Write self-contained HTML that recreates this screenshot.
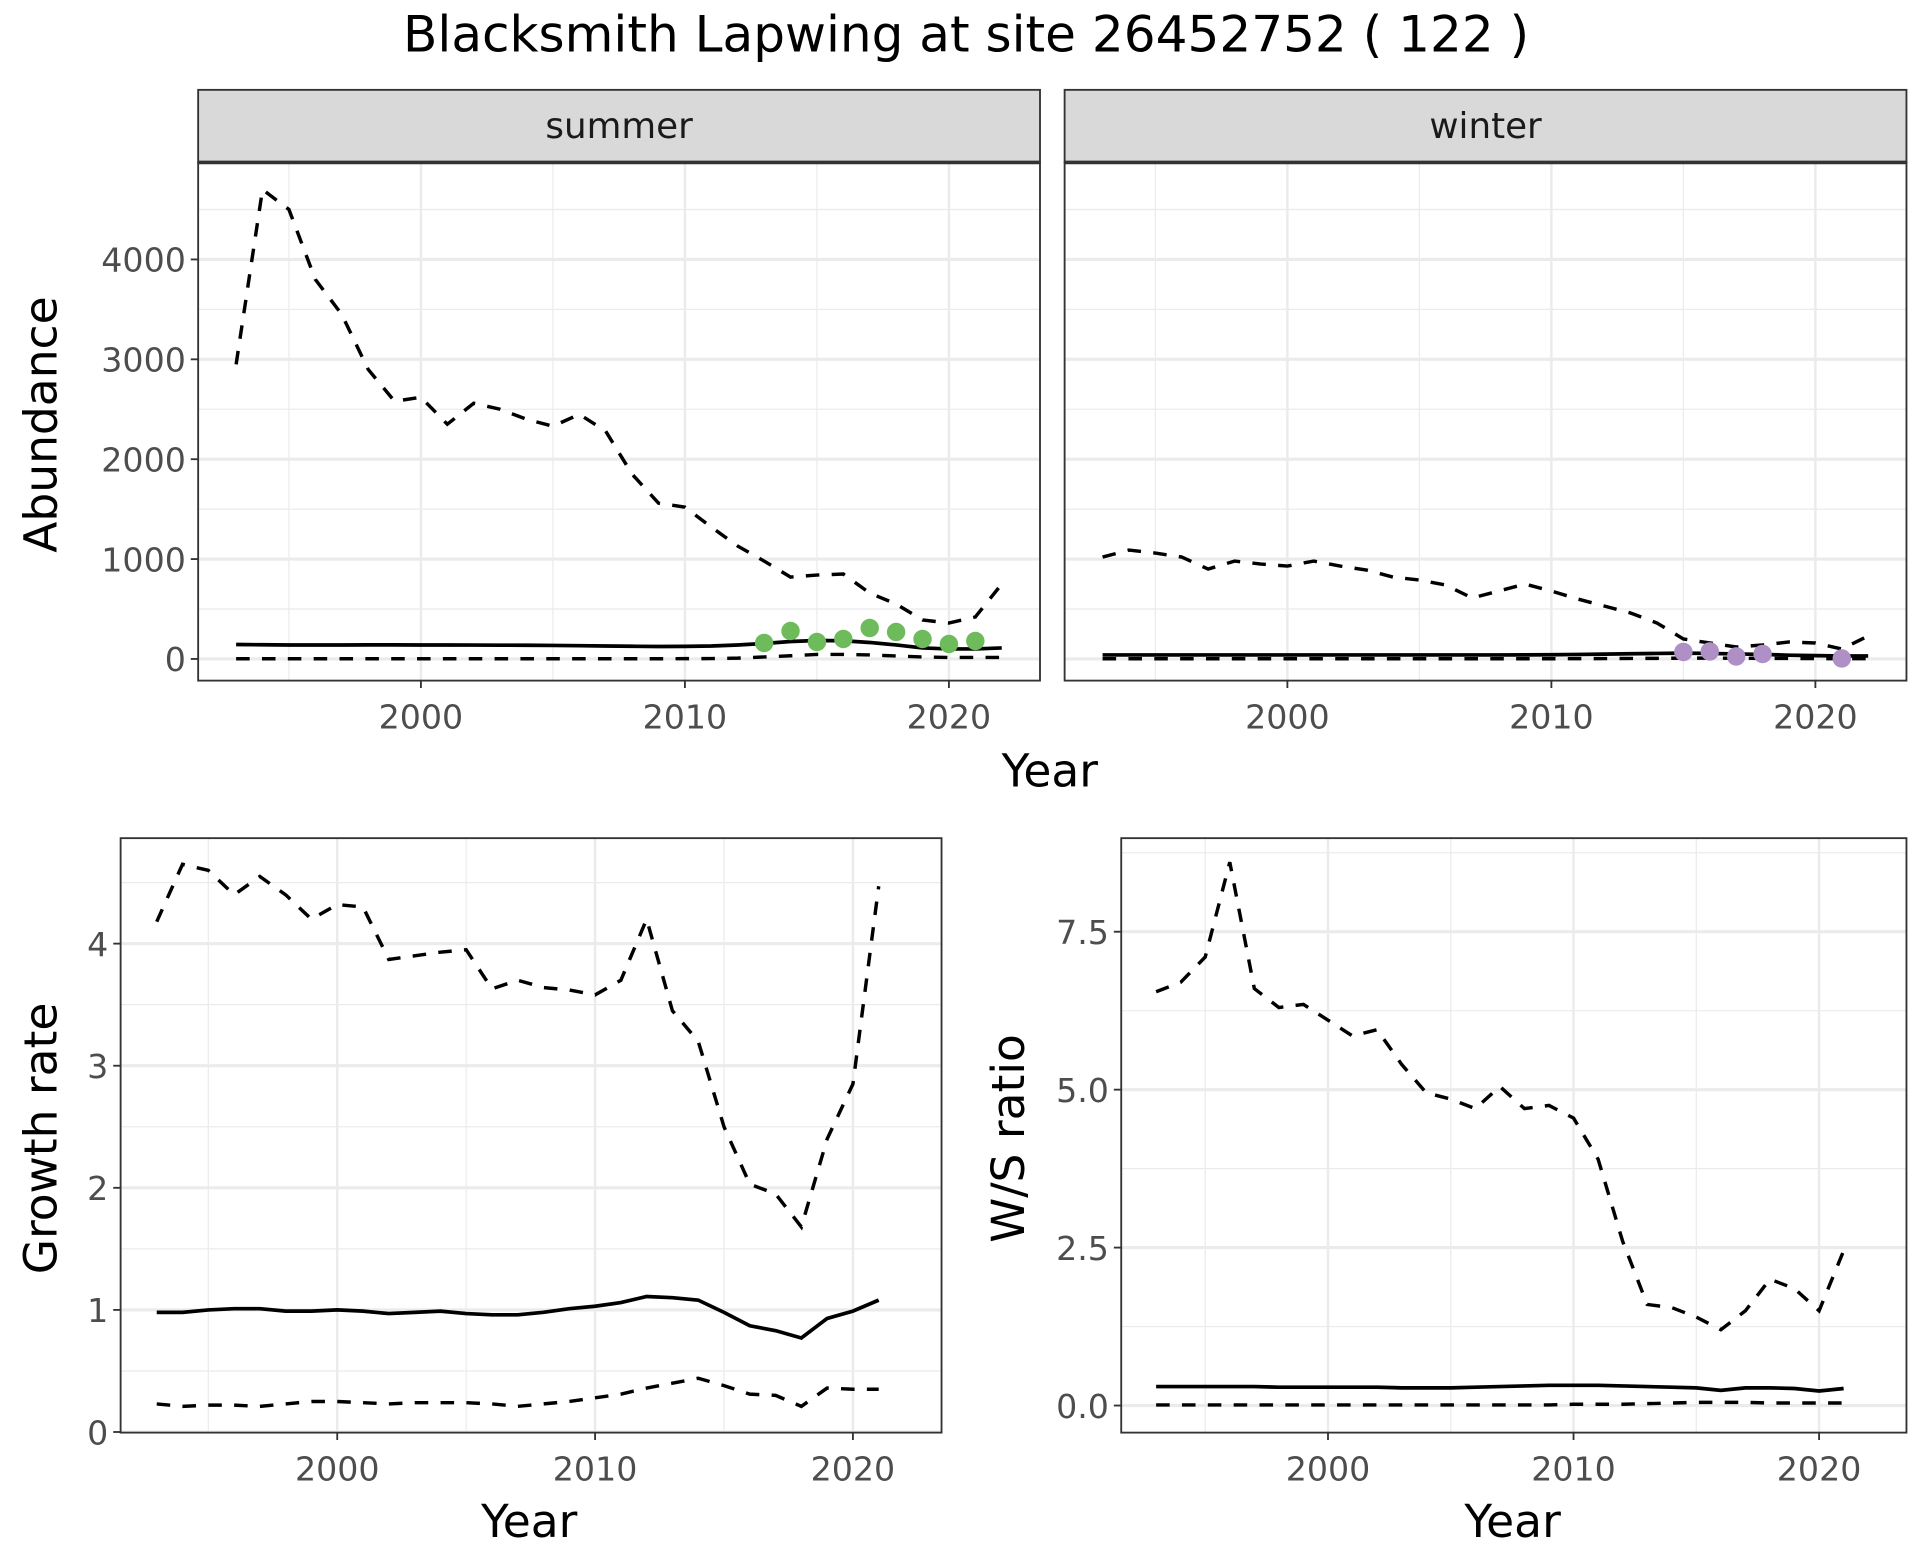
<!DOCTYPE html>
<html><head><meta charset="utf-8"><style>
html,body{margin:0;padding:0;background:#fff}
svg{display:block}
text{font-family:"DejaVu Sans","Liberation Sans",sans-serif}
</style></head><body>
<svg id="chart" width="1920" height="1560" viewBox="0 0 1560 1267.5" xmlns="http://www.w3.org/2000/svg">
<text x="785" y="42" font-size="40.5" text-anchor="middle" fill="#000" textLength="915" lengthAdjust="spacingAndGlyphs">Blacksmith Lapwing at site 26452752 ( 122 )</text>
<g id="layer"></g>
<text transform="translate(46,345) rotate(-90)" font-size="37" text-anchor="middle" fill="#000">Abundance</text>
<text x="853" y="639" font-size="37" text-anchor="middle" fill="#000">Year</text>
<text transform="translate(46,925) rotate(-90)" font-size="37" text-anchor="middle" fill="#000">Growth rate</text>
<text x="430" y="1249" font-size="37" text-anchor="middle" fill="#000">Year</text>
<text transform="translate(832,925) rotate(-90)" font-size="37" text-anchor="middle" fill="#000">W/S ratio</text>
<text x="1229" y="1249" font-size="37" text-anchor="middle" fill="#000">Year</text>
</svg>
<script>
const yearsAb = [1993,1994,1995,1996,1997,1998,1999,2000,2001,2002,2003,2004,2005,2006,2007,2008,2009,2010,2011,2012,2013,2014,2015,2016,2017,2018,2019,2020,2021,2022];
const summerUpper = [2950,4700,4500,3800,3450,2900,2580,2620,2350,2560,2500,2400,2330,2450,2280,1850,1560,1520,1320,1130,980,820,840,850,660,550,390,360,420,750];
const summerMean = [145,142,140,140,140,141,141,140,140,139,138,137,135,133,130,127,125,126,130,140,155,175,185,182,165,140,110,100,100,110];
const summerLower = [2,2,2,2,2,2,2,2,2,2,2,2,2,2,2,2,2,3,4,8,20,32,45,45,40,30,20,15,15,15];
const summerObsYears = [2013,2014,2015,2016,2017,2018,2019,2020,2021];
const summerObs = [160,280,170,200,310,270,200,150,180];
const winterUpper = [1020,1090,1060,1020,900,980,950,930,980,930,890,820,790,740,610,680,750,680,600,530,460,360,200,160,120,140,170,160,100,230];
const winterMean = [40,40,40,40,40,40,40,40,40,40,40,40,40,40,40,40,41,42,45,48,52,55,58,55,50,45,38,33,30,30];
const winterLower = [2,2,2,2,2,2,2,2,2,2,2,2,2,2,2,2,2,2,3,4,5,6,8,8,7,6,5,4,3,3];
const winterObsYears = [2015,2016,2017,2018,2021];
const winterObs = [70,75,25,50,5];
const yearsGr = [1993,1994,1995,1996,1997,1998,1999,2000,2001,2002,2003,2004,2005,2006,2007,2008,2009,2010,2011,2012,2013,2014,2015,2016,2017,2018,2019,2020,2021];
const growthUpper = [4.18,4.65,4.6,4.4,4.55,4.4,4.2,4.32,4.3,3.87,3.9,3.93,3.95,3.63,3.7,3.64,3.62,3.58,3.7,4.2,3.45,3.2,2.5,2.03,1.95,1.68,2.4,2.85,4.47];
const growthMean = [0.98,0.98,1.0,1.01,1.01,0.99,0.99,1.0,0.99,0.97,0.98,0.99,0.97,0.96,0.96,0.98,1.01,1.03,1.06,1.11,1.1,1.08,0.98,0.87,0.83,0.77,0.93,0.99,1.08];
const growthLower = [0.23,0.21,0.22,0.22,0.21,0.23,0.25,0.25,0.24,0.23,0.24,0.24,0.24,0.23,0.21,0.23,0.25,0.28,0.31,0.36,0.40,0.44,0.38,0.31,0.30,0.21,0.36,0.35,0.35];
const ratioUpper = [6.55,6.7,7.1,8.6,6.6,6.3,6.35,6.1,5.85,5.95,5.4,4.95,4.85,4.7,5.05,4.7,4.75,4.55,3.9,2.6,1.6,1.55,1.4,1.2,1.5,2.0,1.85,1.5,2.45];
const ratioMean = [0.3,0.3,0.3,0.3,0.3,0.29,0.29,0.29,0.29,0.29,0.28,0.28,0.28,0.29,0.3,0.31,0.32,0.32,0.32,0.31,0.3,0.29,0.28,0.24,0.28,0.28,0.27,0.23,0.27];
const ratioLower = [0.01,0.01,0.01,0.01,0.01,0.01,0.01,0.01,0.01,0.01,0.01,0.01,0.01,0.01,0.01,0.01,0.01,0.02,0.02,0.02,0.03,0.04,0.05,0.05,0.05,0.04,0.04,0.04,0.04];
const xTicks = [2000,2010,2020];
const abTicks = [0,1000,2000,3000,4000];
const grTicks = [0,1,2,3,4];
const wsTicks = [0,2.5,5,7.5];
const wsTickLabels = ["0.0","2.5","5.0","7.5"];

const NS='http://www.w3.org/2000/svg';
const layer=document.getElementById('layer');
function el(tag,attrs,parent){const e=document.createElementNS(NS,tag);for(const k in attrs)e.setAttribute(k,attrs[k]);(parent||layer).appendChild(e);return e;}

function panel(p){
  const g=el('g',{});
  
  
  const sx=v=>p.x0+(v-p.v0)*p.xs;
  const sy=v=>p.y0-(v)*p.ys;
  el('rect',{x:p.l,y:p.t,width:p.r-p.l,height:p.b-p.t,fill:'#fff'},g);
  for(let v=p.xmin;v<=p.xmax;v+=5){ if(v%10!==0) el('line',{x1:sx(v),x2:sx(v),y1:p.t,y2:p.b,stroke:'#ebebeb','stroke-width':1},g);}
  p.yTicks.forEach(v=>{const y=sy(v+p.ystep/2); if(y>p.t&&y<p.b) el('line',{x1:p.l,x2:p.r,y1:y,y2:y,stroke:'#ebebeb','stroke-width':1},g);});
  { const y=sy(p.yTicks[0]-p.ystep/2); if(y>p.t&&y<p.b) el('line',{x1:p.l,x2:p.r,y1:y,y2:y,stroke:'#ebebeb','stroke-width':1},g); }
  xTicks.forEach(v=>{el('line',{x1:sx(v),x2:sx(v),y1:p.t,y2:p.b,stroke:'#ebebeb','stroke-width':2},g);});
  p.yTicks.forEach(v=>{el('line',{x1:p.l,x2:p.r,y1:sy(v),y2:sy(v),stroke:'#ebebeb','stroke-width':2.5},g);});
  const path=(xs,ys)=>xs.map((x,i)=>(i?'L':'M')+sx(x).toFixed(2)+','+sy(ys[i]).toFixed(2)).join('');
  const up=el('path',{d:path(p.years,p.upper),fill:'none',stroke:'#000','stroke-width':2.8,'stroke-dasharray':'11,10'},g);
  
  
  const lo=el('path',{d:path(p.years,p.lower),fill:'none',stroke:'#000','stroke-width':2.8,'stroke-dasharray':'11,10'},g);
  
  
  const mn=el('path',{d:path(p.years,p.mean),fill:'none',stroke:'#000','stroke-width':3},g);
  
  
  if(p.obsYears){p.obsYears.forEach((yr,i)=>{const c=el('circle',{cx:sx(yr),cy:sy(p.obs[i]),r:7.5,fill:p.color},g);
    
    });}
  el('rect',{x:p.l,y:p.t,width:p.r-p.l,height:p.b-p.t,fill:'none',stroke:'#333','stroke-width':1.5},g);
  xTicks.forEach(v=>{el('line',{x1:sx(v),x2:sx(v),y1:p.b,y2:p.b+6,stroke:'#333','stroke-width':1.5},g);
    const t=el('text',{x:sx(v),y:p.b+39,'font-size':27,'text-anchor':'middle',fill:'#4d4d4d'},g);t.textContent=v;
    
    });
  if(p.showY){p.yTicks.forEach((v,i)=>{el('line',{x1:p.l-6,x2:p.l,y1:sy(v),y2:sy(v),stroke:'#333','stroke-width':1.5},g);
    const t=el('text',{x:p.l-10,y:sy(v)+10,'font-size':27,'text-anchor':'end',fill:'#4d4d4d'},g);t.textContent=p.yLabels?p.yLabels[i]:v;
    
    });}
  if(p.strip){const s=el('rect',{x:p.l,y:73,width:p.r-p.l,height:p.t-73,fill:'#d9d9d9',stroke:'#333','stroke-width':1.5},g);
    
    
    el('line',{x1:p.l,x2:p.r,y1:p.t,y2:p.t,stroke:'#333','stroke-width':3},g);
    const t=el('text',{x:(p.l+p.r)/2,y:112,'font-size':29,'text-anchor':'middle',fill:'#1a1a1a'},g);t.textContent=p.strip;
    
    }
}
panel({name:'summer-panel',l:161,r:845,t:132,b:553,x0:342,v0:2000,xs:21.45,y0:535.4,ys:0.08115,xmin:1995,xmax:2020,yTicks:abTicks,ystep:1000,showY:true,strip:'summer',years:yearsAb,upper:summerUpper,mean:summerMean,lower:summerLower,obsYears:summerObsYears,obs:summerObs,color:'#6dbb5a'});
panel({name:'winter-panel',l:865,r:1549,t:132,b:553,x0:1046,v0:2000,xs:21.45,y0:535.4,ys:0.08115,xmin:1995,xmax:2020,yTicks:abTicks,ystep:1000,showY:false,strip:'winter',years:yearsAb,upper:winterUpper,mean:winterMean,lower:winterLower,obsYears:winterObsYears,obs:winterObs,color:'#ae8fc6'});
panel({name:'growth-panel',l:98,r:765,t:681,b:1164,x0:274,v0:2000,xs:20.95,y0:1163.5,ys:99.2,xmin:1995,xmax:2020,yTicks:grTicks,ystep:1,showY:true,years:yearsGr,upper:growthUpper,mean:growthMean,lower:growthLower});
panel({name:'ratio-panel',l:911,r:1549,t:681,b:1164,x0:1079,v0:2000,xs:19.95,y0:1142,ys:51.33,xmin:1995,xmax:2020,yTicks:wsTicks,yLabels:wsTickLabels,ystep:2.5,showY:true,years:yearsGr,upper:ratioUpper,mean:ratioMean,lower:ratioLower});
</script>
</body></html>
